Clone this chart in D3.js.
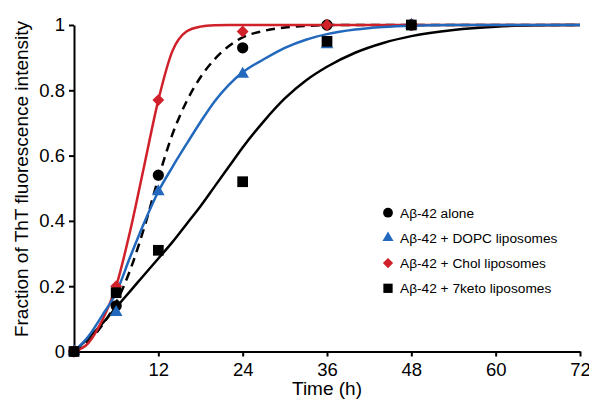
<!DOCTYPE html>
<html>
<head>
<meta charset="utf-8">
<script src="https://cdn.jsdelivr.net/npm/d3@7"></script>
<style>
  body { margin: 0; background: #fff; }
  text { font-family: "Liberation Sans", Arial, sans-serif; fill: #000; }
</style>
</head>
<body>
<div id="chart"></div>
<script>
// measured time points (h)
var timePoints = [0, 6, 12, 24, 36, 48];
var aloneValues = [0, 0.14, 0.54, 0.93, 1.0, 1.0];
var dopcValues = [0, 0.12, 0.49, 0.85, 0.94, 1.0];
var cholValues = [0, 0.20, 0.77, 0.98, 1.0, 1.0];
var ketoValues = [0, 0.18, 0.31, 0.52, 0.95, 1.0];

// fitted curves
var fitTimes = [0, 2, 4, 6, 8, 10, 12, 14, 16, 18, 20, 22, 24, 27, 30, 33, 36, 40, 44, 48, 54, 60, 66, 72];
var aloneFit = [0, 0.03, 0.08, 0.15, 0.25, 0.38, 0.53, 0.665, 0.765, 0.84, 0.895, 0.935, 0.962, 0.982, 0.992, 0.997, 1, 1, 1, 1, 1, 1, 1, 1];
var dopcFit = [0, 0.045, 0.11, 0.18, 0.29, 0.395, 0.49, 0.565, 0.635, 0.703, 0.766, 0.816, 0.855, 0.895, 0.93, 0.955, 0.972, 0.986, 0.994, 0.998, 1, 1, 1, 1];
var cholFit = [0, 0.025, 0.095, 0.2, 0.37, 0.57, 0.77, 0.92, 0.98, 0.995, 0.999, 1, 1, 1, 1, 1, 1, 1, 1, 1, 1, 1, 1, 1];
var ketoFit = [0, 0.04, 0.085, 0.135, 0.185, 0.235, 0.285, 0.335, 0.39, 0.445, 0.505, 0.565, 0.625, 0.705, 0.775, 0.83, 0.872, 0.915, 0.945, 0.966, 0.985, 0.995, 0.999, 1];

var xTicks = [12, 24, 36, 48, 60, 72];
var yTicks = [0, 0.2, 0.4, 0.6, 0.8, 1];
var seriesNames = ["A\u03b2-42 alone", "A\u03b2-42 + DOPC liposomes", "A\u03b2-42 + Chol liposomes", "A\u03b2-42 + 7keto liposomes"];

var red = "#d0202a";
var blue = "#2268bd";

var svg = d3.select("#chart").append("svg")
    .attr("width", 589)
    .attr("height", 405);

svg.append("rect").attr("width", 589).attr("height", 405).attr("fill", "#fff");

var xScale = d3.scaleLinear().domain([0, 72]).range([74, 580]);
var yScale = d3.scaleLinear().domain([0, 1]).range([351.5, 25]);

var line = d3.line()
    .x(function(d){ return xScale(d[0]); })
    .y(function(d){ return yScale(d[1]); })
    .curve(d3.curveMonotoneX);

function pairs(xs, ys){
    return xs.map(function(x, i){ return [x, ys[i]]; });
}

// curves: 7keto, alone (dashed), chol, dopc on top
var curves = [
    {fit: ketoFit, color: "#000", dash: null},
    {fit: aloneFit, color: "#000", dash: "9,6"},
    {fit: cholFit, color: red, dash: null},
    {fit: dopcFit, color: blue, dash: null}
];
curves.forEach(function(c){
    svg.append("path")
        .attr("d", line(pairs(fitTimes, c.fit)))
        .attr("fill", "none")
        .attr("stroke", c.color)
        .attr("stroke-width", 2.5)
        .attr("stroke-dasharray", c.dash);
});

// axes
var xAxis = d3.axisBottom(xScale).tickValues(xTicks).tickSize(5).tickSizeOuter(0).tickPadding(6);
var yAxis = d3.axisLeft(yScale).tickValues(yTicks).tickSize(5).tickSizeOuter(0).tickPadding(4)
    .tickFormat(function(d){ return d === 0 ? "0" : d === 1 ? "1" : d3.format(".1f")(d); });

var gx = svg.append("g").attr("transform", "translate(0," + yScale(0) + ")").call(xAxis);
var gy = svg.append("g").attr("transform", "translate(" + xScale(0) + ",0)").call(yAxis);

[gx, gy].forEach(function(g){
    g.select(".domain").attr("stroke", "#000").attr("stroke-width", 2);
    g.selectAll(".tick line").attr("stroke", "#000").attr("stroke-width", 2);
    g.selectAll(".tick text").attr("font-size", 18.5).attr("font-family", "Liberation Sans, Arial, sans-serif").attr("fill", "#000");
});

// diamond drawn as a square turned 45 degrees
var squareDiamond = {
    draw: function(context, size){
        var r = Math.sqrt(size / 2);
        context.moveTo(0, -r);
        context.lineTo(r, 0);
        context.lineTo(0, r);
        context.lineTo(-r, 0);
        context.closePath();
    }
};

// markers
var symbols = [
    {type: d3.symbolCircle, size: 100, color: "#000", values: aloneValues},
    {type: d3.symbolTriangle, size: 70, color: blue, values: dopcValues},
    {type: squareDiamond, size: 70, color: red, values: cholValues},
    {type: d3.symbolSquare, size: 115, color: "#000", values: ketoValues}
];
symbols.forEach(function(s){
    svg.append("g").selectAll("path")
        .data(pairs(timePoints, s.values))
        .enter()
        .append("path")
            .attr("d", d3.symbol().type(s.type).size(s.size))
            .attr("transform", function(d){ return "translate(" + xScale(d[0]) + "," + yScale(d[1]) + ")"; })
            .attr("fill", s.color);
});

// axis titles
svg.append("text")
    .attr("x", xScale(36))
    .attr("y", 395)
    .attr("text-anchor", "middle")
    .attr("font-size", 19)
    .text("Time (h)");

svg.append("text")
    .attr("transform", "translate(28,179) rotate(-90)")
    .attr("text-anchor", "middle")
    .attr("font-size", 19)
    .text("Fraction of ThT fluorescence intensity");

// legend
var legend = svg.append("g");
symbols.forEach(function(s, i){
    var y = 212.7 + i * 25.2;
    legend.append("path")
        .attr("d", d3.symbol().type(s.type).size(s.size * 0.75))
        .attr("transform", "translate(388," + y + ")")
        .attr("fill", s.color);
    legend.append("text")
        .attr("x", 400)
        .attr("y", y + 5)
        .attr("font-size", 13.7)
        .text(seriesNames[i]);
});
</script>
</body>
</html>
